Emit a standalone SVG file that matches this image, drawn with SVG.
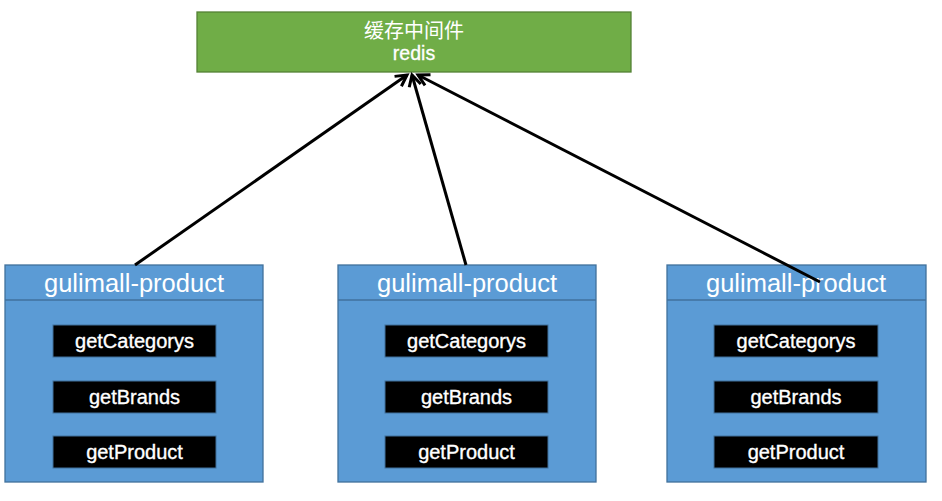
<svg xmlns="http://www.w3.org/2000/svg" width="942" height="501" viewBox="0 0 942 501">
<defs>
<marker id="arr" markerWidth="16" markerHeight="16" refX="13" refY="8" orient="auto" markerUnits="userSpaceOnUse">
<path d="M2,2 L13,8 L2,14" fill="none" stroke="#000" stroke-width="3"/>
</marker>
</defs>
<style>
.svc{fill:#5B9BD5;stroke:#41719C;stroke-width:1.3}
.fn{fill:#000;stroke:#41719C;stroke-width:1}
.hd{font-family:"Liberation Sans",Arial,sans-serif;font-size:25.5px;fill:#fff;text-anchor:middle}
.ft{font-family:"Liberation Sans",Arial,sans-serif;font-size:20px;fill:#fff;text-anchor:middle;stroke:#fff;stroke-width:0.35}
.rd{font-family:"Liberation Sans",Arial,sans-serif;font-size:19.5px;fill:#fff;text-anchor:middle;stroke:#fff;stroke-width:0.3}
.cn{font-family:"Liberation Sans","Noto Sans CJK SC",sans-serif;font-size:20px;fill:#fff;text-anchor:middle}
.ln{stroke:#000;stroke-width:3;fill:none}
</style>
<rect width="942" height="501" fill="#fff"/>
<g id="redis">
<rect x="197" y="12" width="434" height="60" fill="#70AD47" stroke="#548235" stroke-width="1.3"/>
<text class="cn" x="414" y="38">缓存中间件</text>
<text class="rd" x="414" y="60">redis</text>
</g>
<g id="svc1">
<rect class="svc" x="5" y="265" width="258" height="217"/>
<line x1="5" y1="300" x2="263" y2="300" stroke="#41719C" stroke-width="1.3"/>
<text class="hd" x="134" y="292">gulimall-product</text>
<rect class="fn" x="53" y="325" width="163" height="32"/>
<text class="ft" x="134.5" y="348">getCategorys</text>
<rect class="fn" x="53" y="381" width="163" height="32"/>
<text class="ft" x="134.5" y="404">getBrands</text>
<rect class="fn" x="53" y="436" width="163" height="32"/>
<text class="ft" x="134.5" y="459">getProduct</text>
</g>
<g id="svc2">
<rect class="svc" x="338" y="265" width="258" height="217"/>
<line x1="338" y1="300" x2="596" y2="300" stroke="#41719C" stroke-width="1.3"/>
<text class="hd" x="467" y="292">gulimall-product</text>
<rect class="fn" x="385" y="325" width="163" height="32"/>
<text class="ft" x="466.5" y="348">getCategorys</text>
<rect class="fn" x="385" y="381" width="163" height="32"/>
<text class="ft" x="466.5" y="404">getBrands</text>
<rect class="fn" x="385" y="436" width="163" height="32"/>
<text class="ft" x="466.5" y="459">getProduct</text>
</g>
<g id="svc3">
<rect class="svc" x="667" y="265" width="259" height="217"/>
<line x1="667" y1="300" x2="926" y2="300" stroke="#41719C" stroke-width="1.3"/>
<text class="hd" x="796" y="292">gulimall-product</text>
<rect class="fn" x="714" y="325" width="164" height="32"/>
<text class="ft" x="796" y="348">getCategorys</text>
<rect class="fn" x="714" y="381" width="164" height="32"/>
<text class="ft" x="796" y="404">getBrands</text>
<rect class="fn" x="714" y="436" width="164" height="32"/>
<text class="ft" x="796" y="459">getProduct</text>
</g>
<g id="connectors">
<line class="ln" x1="135" y1="265" x2="407" y2="75" marker-end="url(#arr)"/>
<line class="ln" x1="466" y1="265" x2="412" y2="75" marker-end="url(#arr)"/>
<line class="ln" x1="820" y1="282" x2="418" y2="75" marker-end="url(#arr)"/>
</g>
</svg>
